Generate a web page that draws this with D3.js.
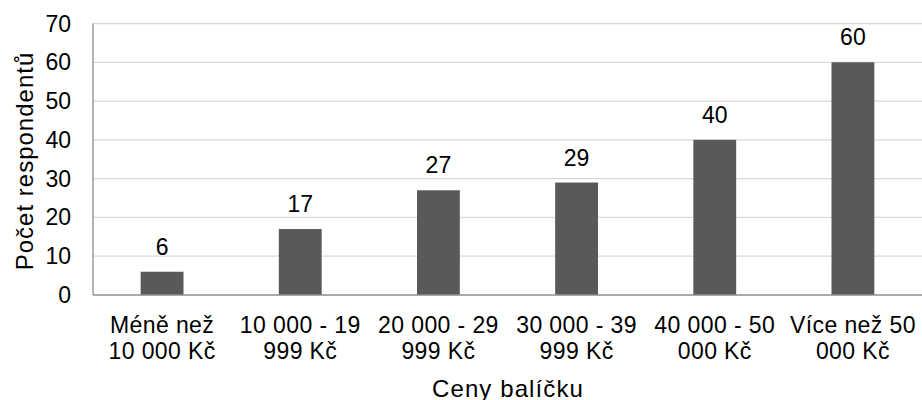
<!DOCTYPE html>
<html><head><meta charset="utf-8">
<script src="https://cdn.jsdelivr.net/npm/d3@7"></script>
<style>body{margin:0;background:#fff}svg{display:block}text{font-family:"Liberation Sans",Arial,sans-serif;fill:#000}</style>
</head><body><svg id="c" width="922" height="400"></svg>
<script>
const categories = [["Méně než","10 000 Kč"],["10 000 - 19","999 Kč"],["20 000 - 29","999 Kč"],["30 000 - 39","999 Kč"],["40 000 - 50","000 Kč"],["Více než 50","000 Kč"]];
const values = [6,17,27,29,40,60];
const yTicks = [0,10,20,30,40,50,60,70];
const yTitle = "Počet respondentů";
const xTitle = "Ceny balíčku";

const svg = d3.select("#c");
const m = {left:93, right:922, top:23.5, bottom:295};
const fs = 23;
const x = d3.scaleBand().domain(d3.range(values.length)).range([m.left, m.right]).paddingInner(0.69).paddingOuter(0.345);
const y = d3.scaleLinear().domain([0,70]).range([m.bottom, m.top]);

// gridlines
svg.append("g").selectAll("line").data(yTicks.filter(d=>d>0)).join("line")
  .attr("x1", m.left).attr("x2", m.right)
  .attr("y1", d=>y(d)).attr("y2", d=>y(d))
  .attr("stroke", "#d9d9d9").attr("stroke-width", 1.3);

// y tick labels
svg.append("g").selectAll("text").data(yTicks).join("text")
  .attr("x", 71).attr("y", d=>y(d)).attr("dy","0.35em")
  .attr("text-anchor","end").attr("font-size", fs).text(d=>d);

// bars
svg.append("g").selectAll("rect").data(values).join("rect")
  .attr("x", (d,i)=>x(i)).attr("width", x.bandwidth())
  .attr("y", d=>y(d)).attr("height", d=>y(0)-y(d))
  .attr("fill", "#595959");

// value labels
svg.append("g").selectAll("text").data(values).join("text")
  .attr("x", (d,i)=>x(i)+x.bandwidth()/2).attr("y", d=>y(d)-17)
  .attr("text-anchor","middle").attr("font-size", fs).text(d=>d);

// axes lines
svg.append("line").attr("x1", m.left).attr("x2", m.left).attr("y1", m.top).attr("y2", m.bottom)
  .attr("stroke","#8c8c8c").attr("stroke-width",1.3);
svg.append("line").attr("x1", m.left).attr("x2", m.right).attr("y1", m.bottom).attr("y2", m.bottom)
  .attr("stroke","#8c8c8c").attr("stroke-width",1.3);

// category labels
const cg = svg.append("g").selectAll("text").data(categories).join("text")
  .attr("text-anchor","middle").attr("font-size", fs).attr("letter-spacing", 0.4)
  .attr("transform", (d,i)=>`translate(${x(i)+x.bandwidth()/2},0)`);
cg.selectAll("tspan").data(d=>d).join("tspan")
  .attr("x",0).attr("y",(d,j)=>333+j*26).text(d=>d);

// axis titles
svg.append("text").attr("x", 508).attr("y", 396.5)
  .attr("text-anchor","middle").attr("font-size", 24).attr("letter-spacing", 1.1).text(xTitle);
svg.append("text").attr("transform", `translate(33,161) rotate(-90)`)
  .attr("text-anchor","middle").attr("font-size", 24).attr("letter-spacing", 1.0).text(yTitle);
</script></body></html>
